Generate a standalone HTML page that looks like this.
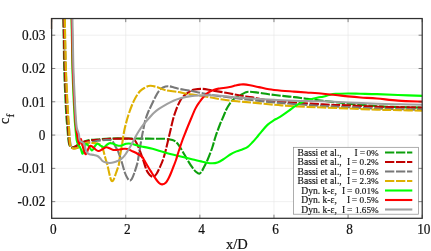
<!DOCTYPE html>
<html><head><meta charset="utf-8"><title>cf</title>
<style>
html,body{margin:0;padding:0;background:#fff;}
body{width:431px;height:251px;overflow:hidden;position:relative;font-family:"Liberation Serif",serif;}
</style></head><body>
<svg width="431" height="251" viewBox="0 0 431 251" style="position:absolute;left:0;top:0;will-change:transform">
<rect x="0" y="0" width="431" height="251" fill="#fff"/>
<g stroke="#e6e6e6" stroke-width="0.6" fill="none"><line x1="125.76" y1="18.55" x2="125.76" y2="218.30"/><line x1="199.87" y1="18.55" x2="199.87" y2="218.30"/><line x1="273.98" y1="18.55" x2="273.98" y2="218.30"/><line x1="348.09" y1="18.55" x2="348.09" y2="218.30"/><line x1="51.65" y1="201.65" x2="422.20" y2="201.65"/><line x1="51.65" y1="168.36" x2="422.20" y2="168.36"/><line x1="51.65" y1="135.07" x2="422.20" y2="135.07"/><line x1="51.65" y1="101.78" x2="422.20" y2="101.78"/><line x1="51.65" y1="68.49" x2="422.20" y2="68.49"/><line x1="51.65" y1="35.20" x2="422.20" y2="35.20"/></g>
<defs><clipPath id="c"><rect x="50.65" y="18.55" width="371.55" height="199.75"/></clipPath></defs>
<g clip-path="url(#c)" fill="none" stroke-width="2.1" stroke-linejoin="round"><path d="M63.10 5.00 C63.13 7.17 63.18 11.67 63.30 18.00 C63.42 24.33 63.65 34.67 63.80 43.00 C63.95 51.33 63.95 59.17 64.20 68.00 C64.45 76.83 64.92 87.67 65.30 96.00 C65.68 104.33 66.15 112.67 66.50 118.00 C66.85 123.33 67.12 124.67 67.40 128.00 C67.68 131.33 67.95 135.50 68.20 138.00 C68.45 140.50 68.62 141.67 68.90 143.00 C69.18 144.33 69.45 145.27 69.90 146.00 C70.35 146.73 70.92 147.23 71.60 147.40 C72.28 147.57 73.25 147.25 74.00 147.00 C74.75 146.75 75.35 146.33 76.10 145.90 C76.85 145.47 77.68 144.90 78.50 144.40 C79.32 143.90 79.92 143.43 81.00 142.90 C82.08 142.37 83.50 141.68 85.00 141.20 C86.50 140.72 87.92 140.28 90.00 140.00 C92.08 139.72 94.17 139.75 97.50 139.50 C100.83 139.25 104.17 138.67 110.00 138.50 C115.83 138.33 127.50 138.48 132.50 138.50 C137.50 138.52 136.25 138.57 140.00 138.60 C143.75 138.63 150.83 138.67 155.00 138.70 C159.17 138.73 162.08 138.58 165.00 138.80 C167.92 139.02 170.42 139.22 172.50 140.00 C174.58 140.78 175.83 141.62 177.50 143.50 C179.17 145.38 180.83 148.50 182.50 151.25 C184.17 154.00 185.83 157.26 187.50 160.00 C189.17 162.74 191.04 165.70 192.50 167.70 C193.96 169.70 195.10 171.00 196.25 172.00 C197.40 173.00 198.44 173.87 199.40 173.70 C200.36 173.53 201.17 172.24 202.00 171.00 C202.83 169.76 203.48 168.08 204.40 166.25 C205.32 164.42 206.18 163.12 207.50 160.00 C208.82 156.88 210.98 151.33 212.30 147.50 C213.62 143.67 214.16 140.75 215.40 137.00 C216.64 133.25 218.40 128.46 219.75 125.00 C221.10 121.54 222.34 118.95 223.50 116.25 C224.66 113.55 225.62 110.96 226.70 108.80 C227.78 106.64 228.82 104.93 230.00 103.30 C231.18 101.67 232.08 100.32 233.75 99.00 C235.42 97.68 238.12 96.47 240.00 95.40 C241.88 94.33 243.54 93.22 245.00 92.60 C246.46 91.98 246.88 91.73 248.75 91.70 C250.62 91.67 252.92 91.97 256.25 92.40 C259.58 92.83 264.54 93.73 268.75 94.30 C272.96 94.87 277.29 95.33 281.50 95.80 C285.71 96.27 289.83 96.61 294.00 97.10 C298.17 97.59 301.67 98.13 306.50 98.75 C311.33 99.37 316.08 99.99 323.00 100.80 C329.92 101.61 339.00 102.70 348.00 103.60 C357.00 104.50 368.33 105.62 377.00 106.20 C385.67 106.78 392.33 106.85 400.00 107.10 C407.67 107.35 419.17 107.60 423.00 107.70" stroke="#0c9f0c" stroke-dasharray="9.15 1.65" stroke-dashoffset="-2.7"/><path d="M63.40 5.00 C63.43 7.17 63.47 11.67 63.60 18.00 C63.73 24.33 64.00 34.67 64.20 43.00 C64.40 51.33 64.50 59.17 64.80 68.00 C65.10 76.83 65.58 87.67 66.00 96.00 C66.42 104.33 66.95 112.67 67.30 118.00 C67.65 123.33 67.85 124.67 68.10 128.00 C68.35 131.33 68.58 135.50 68.80 138.00 C69.02 140.50 69.17 141.67 69.40 143.00 C69.63 144.33 69.80 145.25 70.20 146.00 C70.60 146.75 71.17 147.30 71.80 147.50 C72.43 147.70 73.28 147.42 74.00 147.20 C74.72 146.98 75.35 146.60 76.10 146.20 C76.85 145.80 77.68 145.28 78.50 144.80 C79.32 144.32 79.92 143.83 81.00 143.30 C82.08 142.77 83.50 142.08 85.00 141.60 C86.50 141.12 87.92 140.68 90.00 140.40 C92.08 140.12 94.17 140.17 97.50 139.90 C100.83 139.63 105.42 139.02 110.00 138.80 C114.58 138.58 121.25 138.57 125.00 138.60 C128.75 138.63 130.62 138.35 132.50 139.00 C134.38 139.65 135.00 140.46 136.25 142.50 C137.50 144.54 138.82 148.25 140.00 151.25 C141.18 154.25 142.22 157.38 143.30 160.50 C144.38 163.62 145.43 167.58 146.50 170.00 C147.57 172.42 148.60 173.85 149.75 175.00 C150.90 176.15 152.26 177.11 153.40 176.90 C154.54 176.69 155.54 175.32 156.60 173.75 C157.66 172.18 158.70 169.79 159.75 167.50 C160.80 165.21 161.89 162.92 162.90 160.00 C163.91 157.08 164.68 154.33 165.80 150.00 C166.92 145.67 168.33 139.33 169.60 134.00 C170.87 128.67 172.23 122.23 173.40 118.00 C174.57 113.77 175.58 111.27 176.60 108.60 C177.62 105.93 178.52 103.90 179.50 102.00 C180.48 100.10 181.38 98.53 182.50 97.20 C183.62 95.87 184.97 94.97 186.20 94.00 C187.43 93.03 188.52 92.15 189.90 91.40 C191.28 90.65 192.40 89.92 194.50 89.50 C196.60 89.08 199.50 88.73 202.50 88.90 C205.50 89.07 208.33 89.82 212.50 90.50 C216.67 91.18 222.92 92.17 227.50 93.00 C232.08 93.83 235.83 94.77 240.00 95.50 C244.17 96.23 247.67 96.58 252.50 97.40 C257.33 98.22 262.08 99.55 269.00 100.40 C275.92 101.25 285.00 101.83 294.00 102.50 C303.00 103.17 314.00 103.92 323.00 104.40 C332.00 104.88 339.00 105.02 348.00 105.40 C357.00 105.78 368.33 106.40 377.00 106.70 C385.67 107.00 392.33 107.05 400.00 107.20 C407.67 107.35 419.17 107.53 423.00 107.60" stroke="#c00000" stroke-dasharray="9.15 1.65" stroke-dashoffset="-2.7"/><path d="M64.30 5.00 C64.33 7.17 64.37 11.67 64.50 18.00 C64.63 24.33 64.90 34.67 65.10 43.00 C65.30 51.33 65.40 59.17 65.70 68.00 C66.00 76.83 66.48 87.67 66.90 96.00 C67.32 104.33 67.85 112.67 68.20 118.00 C68.55 123.33 68.75 124.67 69.00 128.00 C69.25 131.33 69.48 135.50 69.70 138.00 C69.92 140.50 70.05 141.50 70.30 143.00 C70.55 144.50 70.73 146.12 71.20 147.00 C71.67 147.88 72.38 148.10 73.10 148.30 C73.82 148.50 74.77 148.30 75.50 148.20 C76.23 148.10 76.58 148.10 77.50 147.70 C78.42 147.30 79.75 146.50 81.00 145.80 C82.25 145.10 83.83 144.03 85.00 143.50 C86.17 142.97 86.83 142.82 88.00 142.60 C89.17 142.38 90.83 142.40 92.00 142.20 C93.17 142.00 94.08 141.63 95.00 141.40 C95.92 141.17 95.67 141.05 97.50 140.80 C99.33 140.55 103.92 140.03 106.00 139.90 C108.08 139.77 108.92 139.78 110.00 140.00 C111.08 140.22 111.50 139.95 112.50 141.20 C113.50 142.45 114.96 145.53 116.00 147.50 C117.04 149.47 117.77 150.50 118.75 153.00 C119.73 155.50 120.86 159.17 121.90 162.50 C122.94 165.83 124.07 170.37 125.00 173.00 C125.93 175.63 126.72 177.03 127.50 178.30 C128.28 179.57 128.98 180.48 129.70 180.60 C130.42 180.72 131.03 180.27 131.80 179.00 C132.57 177.73 133.33 175.75 134.30 173.00 C135.27 170.25 136.93 165.00 137.60 162.50 C138.27 160.00 137.93 160.25 138.30 158.00 C138.67 155.75 139.30 152.00 139.80 149.00 C140.30 146.00 140.73 143.17 141.30 140.00 C141.87 136.83 142.55 133.25 143.20 130.00 C143.85 126.75 144.40 123.42 145.20 120.50 C146.00 117.58 147.05 114.87 148.00 112.50 C148.95 110.13 149.65 108.92 150.90 106.30 C152.15 103.67 154.12 99.37 155.50 96.75 C156.88 94.13 157.95 92.14 159.20 90.60 C160.45 89.06 161.53 88.23 163.00 87.50 C164.47 86.77 166.17 86.22 168.00 86.20 C169.83 86.18 172.04 86.93 174.00 87.40 C175.96 87.87 177.12 88.47 179.75 89.00 C182.38 89.53 185.96 89.89 189.75 90.60 C193.54 91.31 198.29 92.43 202.50 93.25 C206.71 94.07 208.75 94.61 215.00 95.50 C221.25 96.39 231.04 97.53 240.00 98.60 C248.96 99.67 259.75 101.00 268.75 101.90 C277.75 102.80 284.96 103.32 294.00 104.00 C303.04 104.68 314.00 105.47 323.00 106.00 C332.00 106.53 339.00 106.77 348.00 107.20 C357.00 107.63 368.33 108.27 377.00 108.60 C385.67 108.93 392.33 109.00 400.00 109.20 C407.67 109.40 419.17 109.70 423.00 109.80" stroke="#787878" stroke-dasharray="9.15 1.65" stroke-dashoffset="-2.7"/><path d="M64.60 5.00 C64.63 7.17 64.68 11.67 64.80 18.00 C64.92 24.33 65.12 34.67 65.30 43.00 C65.48 51.33 65.60 59.17 65.90 68.00 C66.20 76.83 66.70 87.67 67.10 96.00 C67.50 104.33 67.98 112.67 68.30 118.00 C68.62 123.33 68.80 124.67 69.00 128.00 C69.20 131.33 69.33 135.42 69.50 138.00 C69.67 140.58 69.77 142.00 70.00 143.50 C70.23 145.00 70.38 146.17 70.90 147.00 C71.42 147.83 72.33 148.27 73.10 148.50 C73.87 148.73 74.77 148.50 75.50 148.40 C76.23 148.30 76.58 148.32 77.50 147.90 C78.42 147.48 79.75 146.62 81.00 145.90 C82.25 145.18 83.83 144.15 85.00 143.60 C86.17 143.05 86.75 142.70 88.00 142.60 C89.25 142.50 90.92 142.83 92.50 143.00 C94.08 143.17 96.12 143.23 97.50 143.60 C98.88 143.97 99.88 144.26 100.80 145.20 C101.72 146.14 102.30 147.32 103.00 149.25 C103.70 151.18 104.52 154.96 105.00 156.75 C105.48 158.54 105.50 158.62 105.90 160.00 C106.30 161.38 106.83 162.75 107.40 165.00 C107.97 167.25 108.73 171.12 109.30 173.50 C109.87 175.88 110.32 178.00 110.80 179.30 C111.28 180.60 111.72 181.27 112.20 181.30 C112.68 181.33 113.07 180.88 113.70 179.50 C114.33 178.12 115.16 175.42 116.00 173.00 C116.84 170.58 118.12 167.58 118.75 165.00 C119.38 162.42 119.21 160.83 119.75 157.50 C120.29 154.17 121.24 149.50 122.00 145.00 C122.76 140.50 123.23 135.50 124.30 130.50 C125.37 125.50 126.78 119.98 128.40 115.00 C130.02 110.02 132.08 104.55 134.00 100.60 C135.92 96.65 138.07 93.47 139.90 91.30 C141.73 89.13 143.27 88.52 145.00 87.60 C146.73 86.68 148.22 85.87 150.30 85.80 C152.38 85.73 155.05 86.50 157.50 87.20 C159.95 87.90 161.67 89.20 165.00 90.00 C168.33 90.80 173.33 91.29 177.50 92.00 C181.67 92.71 185.83 93.60 190.00 94.25 C194.17 94.90 198.33 95.23 202.50 95.90 C206.67 96.58 210.83 97.58 215.00 98.30 C219.17 99.02 223.33 99.72 227.50 100.25 C231.67 100.78 235.83 101.11 240.00 101.50 C244.17 101.89 247.71 102.15 252.50 102.60 C257.29 103.05 263.92 103.73 268.75 104.20 C273.58 104.67 277.29 105.06 281.50 105.40 C285.71 105.74 289.83 106.00 294.00 106.25 C298.17 106.50 301.67 106.69 306.50 106.90 C311.33 107.11 316.08 107.23 323.00 107.50 C329.92 107.77 339.00 108.13 348.00 108.50 C357.00 108.87 368.33 109.42 377.00 109.70 C385.67 109.98 392.33 110.03 400.00 110.20 C407.67 110.37 419.17 110.62 423.00 110.70" stroke="#deb000" stroke-dasharray="9.15 1.65" stroke-dashoffset="-2.7"/><path d="M71.40 5.00 C71.42 7.17 71.40 11.67 71.50 18.00 C71.60 24.33 71.85 34.67 72.00 43.00 C72.15 51.33 72.15 59.17 72.40 68.00 C72.65 76.83 73.13 87.67 73.50 96.00 C73.87 104.33 74.28 112.67 74.60 118.00 C74.92 123.33 75.17 125.33 75.40 128.00 C75.63 130.67 75.78 131.93 76.00 134.00 C76.22 136.07 76.37 138.70 76.70 140.40 C77.03 142.10 77.50 143.13 78.00 144.20 C78.50 145.27 79.17 145.83 79.70 146.80 C80.23 147.77 80.80 148.97 81.20 150.00 C81.60 151.03 81.83 152.38 82.10 153.00 C82.37 153.62 82.53 154.03 82.80 153.70 C83.07 153.37 83.33 152.20 83.70 151.00 C84.07 149.80 84.58 147.67 85.00 146.50 C85.42 145.33 85.75 144.22 86.25 144.00 C86.75 143.78 87.38 144.53 88.00 145.20 C88.62 145.87 89.35 147.12 90.00 148.00 C90.65 148.88 91.32 150.37 91.90 150.50 C92.48 150.63 92.98 149.55 93.50 148.80 C94.02 148.05 94.33 146.83 95.00 146.00 C95.67 145.17 96.67 143.92 97.50 143.80 C98.33 143.68 98.96 144.73 100.00 145.30 C101.04 145.87 102.71 147.20 103.75 147.20 C104.79 147.20 105.31 145.97 106.25 145.30 C107.19 144.63 108.36 143.50 109.40 143.20 C110.44 142.90 111.15 143.10 112.50 143.50 C113.85 143.90 116.04 145.25 117.50 145.60 C118.96 145.95 119.79 145.91 121.25 145.60 C122.71 145.29 124.58 144.06 126.25 143.75 C127.92 143.44 129.38 143.44 131.25 143.75 C133.12 144.06 135.42 145.07 137.50 145.60 C139.58 146.12 141.25 146.38 143.75 146.90 C146.25 147.43 148.96 147.82 152.50 148.75 C156.04 149.68 160.83 151.33 165.00 152.50 C169.17 153.67 173.33 154.71 177.50 155.75 C181.67 156.79 185.83 157.75 190.00 158.75 C194.17 159.75 198.96 161.00 202.50 161.75 C206.04 162.50 208.75 163.12 211.25 163.25 C213.75 163.38 215.38 163.22 217.50 162.50 C219.62 161.78 221.88 160.23 224.00 158.90 C226.12 157.57 228.17 155.75 230.25 154.50 C232.33 153.25 234.42 152.28 236.50 151.40 C238.58 150.53 240.88 150.00 242.75 149.25 C244.62 148.50 246.08 148.11 247.75 146.90 C249.42 145.69 251.08 143.78 252.75 142.00 C254.42 140.22 256.29 137.93 257.75 136.20 C259.21 134.47 259.83 133.53 261.50 131.60 C263.17 129.67 265.67 126.50 267.75 124.60 C269.83 122.70 272.33 121.27 274.00 120.20 C275.67 119.13 276.25 119.10 277.75 118.20 C279.25 117.30 281.12 116.07 283.00 114.80 C284.88 113.53 287.17 111.92 289.00 110.60 C290.83 109.28 292.12 108.15 294.00 106.90 C295.88 105.65 298.17 104.15 300.25 103.10 C302.33 102.05 304.42 101.32 306.50 100.60 C308.58 99.88 310.67 99.31 312.75 98.75 C314.83 98.19 317.29 97.59 319.00 97.25 C320.71 96.91 321.29 97.08 323.00 96.70 C324.71 96.33 327.17 95.47 329.25 95.00 C331.33 94.53 332.38 94.15 335.50 93.90 C338.62 93.65 343.83 93.53 348.00 93.50 C352.17 93.47 355.67 93.65 360.50 93.75 C365.33 93.85 370.75 93.89 377.00 94.10 C383.25 94.31 390.33 94.70 398.00 95.00 C405.67 95.30 418.83 95.75 423.00 95.90" stroke="#00ff00"/><path d="M71.60 5.00 C71.63 7.17 71.68 11.67 71.80 18.00 C71.92 24.33 72.13 34.67 72.30 43.00 C72.47 51.33 72.52 59.17 72.80 68.00 C73.08 76.83 73.60 87.67 74.00 96.00 C74.40 104.33 74.85 112.67 75.20 118.00 C75.55 123.33 75.80 125.33 76.10 128.00 C76.40 130.67 76.65 131.83 77.00 134.00 C77.35 136.17 77.82 139.28 78.20 141.00 C78.58 142.72 78.97 144.22 79.30 144.30 C79.63 144.38 79.93 142.40 80.20 141.50 C80.47 140.60 80.65 138.90 80.90 138.90 C81.15 138.90 81.43 140.48 81.70 141.50 C81.97 142.52 82.17 143.58 82.50 145.00 C82.83 146.42 83.28 148.62 83.70 150.00 C84.12 151.38 84.65 152.59 85.00 153.30 C85.35 154.01 85.48 154.38 85.80 154.25 C86.12 154.12 86.52 153.33 86.90 152.50 C87.28 151.67 87.58 150.33 88.10 149.25 C88.62 148.17 89.27 146.42 90.00 146.00 C90.73 145.58 91.46 146.08 92.50 146.75 C93.54 147.42 95.21 149.29 96.25 150.00 C97.29 150.71 97.71 151.12 98.75 151.00 C99.79 150.88 101.25 149.87 102.50 149.25 C103.75 148.63 105.00 147.43 106.25 147.30 C107.50 147.18 108.75 148.05 110.00 148.50 C111.25 148.95 112.29 149.79 113.75 150.00 C115.21 150.21 117.08 149.96 118.75 149.75 C120.42 149.54 122.29 148.88 123.75 148.75 C125.21 148.62 126.04 148.58 127.50 149.00 C128.96 149.42 130.83 150.46 132.50 151.25 C134.17 152.04 135.83 152.74 137.50 153.75 C139.17 154.76 141.40 156.26 142.50 157.30 C143.60 158.34 143.10 158.30 144.10 160.00 C145.10 161.70 147.25 165.42 148.50 167.50 C149.75 169.58 150.56 170.83 151.60 172.50 C152.64 174.17 153.50 175.73 154.75 177.50 C156.00 179.27 157.85 181.95 159.10 183.10 C160.35 184.25 161.10 184.50 162.25 184.40 C163.40 184.30 164.92 183.57 166.00 182.50 C167.08 181.43 167.88 179.67 168.75 178.00 C169.62 176.33 170.38 174.50 171.20 172.50 C172.02 170.50 172.90 168.08 173.70 166.00 C174.50 163.92 175.23 162.25 176.00 160.00 C176.77 157.75 177.22 155.83 178.30 152.50 C179.38 149.17 181.22 143.58 182.50 140.00 C183.78 136.42 184.67 134.33 186.00 131.00 C187.33 127.67 188.93 123.73 190.50 120.00 C192.07 116.27 193.86 111.64 195.40 108.60 C196.94 105.56 198.19 103.93 199.75 101.75 C201.31 99.57 203.29 97.06 204.75 95.50 C206.21 93.94 207.04 93.33 208.50 92.40 C209.96 91.47 211.83 90.53 213.50 89.90 C215.17 89.27 216.83 88.92 218.50 88.60 C220.17 88.28 221.62 88.27 223.50 88.00 C225.38 87.73 228.04 87.33 229.75 87.00 C231.46 86.67 232.62 86.30 233.75 86.00 C234.88 85.70 235.46 85.43 236.50 85.20 C237.54 84.97 238.79 84.73 240.00 84.60 C241.21 84.47 242.08 84.28 243.75 84.40 C245.42 84.52 247.50 84.85 250.00 85.30 C252.50 85.75 255.58 86.43 258.75 87.10 C261.92 87.77 265.21 88.70 269.00 89.30 C272.79 89.90 277.33 90.32 281.50 90.70 C285.67 91.08 289.83 91.30 294.00 91.60 C298.17 91.90 301.67 92.14 306.50 92.50 C311.33 92.86 318.17 93.33 323.00 93.75 C327.83 94.17 331.33 94.56 335.50 95.00 C339.67 95.44 343.83 95.98 348.00 96.40 C352.17 96.82 355.67 97.15 360.50 97.50 C365.33 97.85 370.75 97.98 377.00 98.50 C383.25 99.02 390.33 100.08 398.00 100.60 C405.67 101.12 418.83 101.43 423.00 101.60" stroke="#ff0000"/><path d="M72.20 5.00 C72.23 7.17 72.28 11.67 72.40 18.00 C72.52 24.33 72.73 34.67 72.90 43.00 C73.07 51.33 73.12 59.17 73.40 68.00 C73.68 76.83 74.20 87.67 74.60 96.00 C75.00 104.33 75.43 112.67 75.80 118.00 C76.17 123.33 76.30 125.33 76.80 128.00 C77.30 130.67 78.35 132.08 78.80 134.00 C79.25 135.92 79.22 138.28 79.50 139.50 C79.78 140.72 79.90 140.78 80.50 141.30 C81.10 141.82 82.47 142.07 83.10 142.60 C83.73 143.13 83.98 143.82 84.30 144.50 C84.62 145.18 84.75 145.78 85.00 146.70 C85.25 147.62 85.43 148.98 85.80 150.00 C86.17 151.02 86.60 152.09 87.20 152.80 C87.80 153.51 88.31 153.90 89.40 154.25 C90.49 154.60 92.40 154.61 93.75 154.90 C95.10 155.19 96.46 155.48 97.50 156.00 C98.54 156.52 99.17 157.17 100.00 158.00 C100.83 158.83 101.50 160.23 102.50 161.00 C103.50 161.77 104.75 162.27 106.00 162.60 C107.25 162.93 108.67 163.05 110.00 163.00 C111.33 162.95 112.75 162.63 114.00 162.30 C115.25 161.97 116.29 161.55 117.50 161.00 C118.71 160.45 120.00 160.00 121.25 159.00 C122.50 158.00 123.33 157.33 125.00 155.00 C126.67 152.67 129.58 147.87 131.25 145.00 C132.92 142.13 133.75 140.10 135.00 137.80 C136.25 135.50 137.29 133.47 138.75 131.20 C140.21 128.93 141.88 126.57 143.75 124.20 C145.62 121.83 148.33 118.87 150.00 117.00 C151.67 115.13 152.33 114.30 153.75 113.00 C155.17 111.70 156.25 110.72 158.50 109.20 C160.75 107.68 164.75 105.32 167.25 103.90 C169.75 102.48 171.42 101.60 173.50 100.70 C175.58 99.80 177.67 99.13 179.75 98.50 C181.83 97.87 183.92 97.33 186.00 96.90 C188.08 96.47 190.17 96.13 192.25 95.90 C194.33 95.67 196.42 95.59 198.50 95.50 C200.58 95.41 202.67 95.38 204.75 95.35 C206.83 95.32 208.92 95.27 211.00 95.30 C213.08 95.33 215.17 95.38 217.25 95.50 C219.33 95.62 221.42 95.80 223.50 96.00 C225.58 96.20 227.00 96.43 229.75 96.70 C232.50 96.97 236.21 97.30 240.00 97.60 C243.79 97.90 247.71 98.17 252.50 98.50 C257.29 98.83 261.83 99.23 268.75 99.60 C275.67 99.97 284.96 100.42 294.00 100.70 C303.04 100.98 314.00 101.00 323.00 101.30 C332.00 101.60 339.00 102.09 348.00 102.50 C357.00 102.91 368.33 103.45 377.00 103.75 C385.67 104.05 392.33 104.14 400.00 104.30 C407.67 104.46 419.17 104.63 423.00 104.70" stroke="#a0a0a0"/></g>
<path d="M51.50 29V18" fill="none" stroke="#b08060" stroke-width="1.9" stroke-opacity="0.55"/>
<rect x="293.50" y="147.30" width="125.00" height="66.90" fill="#fff" stroke="#8a8a8a" stroke-width="0.7"/><g font-family="'Liberation Serif', serif" font-size="9.6" fill="#111" stroke="#111" stroke-width="0.15"><text x="297.50" y="155.60" text-anchor="start">Bassi</text><text x="320.40" y="155.60" text-anchor="start">et</text><text x="330.00" y="155.60" text-anchor="start">al.,</text><text x="354.50" y="155.60" text-anchor="start">I</text><text x="359.70" y="155.60" text-anchor="start">=</text><text x="378.70" y="155.60" text-anchor="end" font-size="9.2">0%</text><text x="297.50" y="165.10" text-anchor="start">Bassi</text><text x="320.40" y="165.10" text-anchor="start">et</text><text x="330.00" y="165.10" text-anchor="start">al.,</text><text x="347.00" y="165.10" text-anchor="start">I</text><text x="351.80" y="165.10" text-anchor="start">=</text><text x="378.70" y="165.10" text-anchor="end" font-size="9.2">0.2%</text><text x="297.50" y="174.60" text-anchor="start">Bassi</text><text x="320.40" y="174.60" text-anchor="start">et</text><text x="330.00" y="174.60" text-anchor="start">al.,</text><text x="347.00" y="174.60" text-anchor="start">I</text><text x="351.80" y="174.60" text-anchor="start">=</text><text x="378.70" y="174.60" text-anchor="end" font-size="9.2">0.6%</text><text x="297.50" y="184.10" text-anchor="start">Bassi</text><text x="320.40" y="184.10" text-anchor="start">et</text><text x="330.00" y="184.10" text-anchor="start">al.,</text><text x="347.00" y="184.10" text-anchor="start">I</text><text x="351.80" y="184.10" text-anchor="start">=</text><text x="378.70" y="184.10" text-anchor="end" font-size="9.2">2.3%</text><text x="301.30" y="193.60" text-anchor="start">Dyn.</text><text x="322.50" y="193.60" text-anchor="start">k-ε,</text><text x="342.00" y="193.60" text-anchor="start">I</text><text x="347.00" y="193.60" text-anchor="start">=</text><text x="378.70" y="193.60" text-anchor="end" font-size="9.2">0.01%</text><text x="301.30" y="203.10" text-anchor="start">Dyn.</text><text x="322.50" y="203.10" text-anchor="start">k-ε,</text><text x="347.00" y="203.10" text-anchor="start">I</text><text x="351.80" y="203.10" text-anchor="start">=</text><text x="378.70" y="203.10" text-anchor="end" font-size="9.2">0.5%</text><text x="301.30" y="212.60" text-anchor="start">Dyn.</text><text x="322.50" y="212.60" text-anchor="start">k-ε,</text><text x="342.00" y="212.60" text-anchor="start">I</text><text x="347.00" y="212.60" text-anchor="start">=</text><text x="378.70" y="212.60" text-anchor="end" font-size="9.2">1.65%</text></g><g fill="none" stroke-width="2.1"><line x1="385" y1="152.50" x2="412.3" y2="152.50" stroke="#0c9f0c" stroke-dasharray="9.3 1.7"/><line x1="385" y1="162.00" x2="412.3" y2="162.00" stroke="#c00000" stroke-dasharray="9.3 1.7"/><line x1="385" y1="171.50" x2="412.3" y2="171.50" stroke="#787878" stroke-dasharray="9.3 1.7"/><line x1="385" y1="181.00" x2="412.3" y2="181.00" stroke="#deb000" stroke-dasharray="9.3 1.7"/><line x1="385" y1="190.50" x2="412.3" y2="190.50" stroke="#00ff00"/><line x1="385" y1="200.00" x2="412.3" y2="200.00" stroke="#ff0000"/><line x1="385" y1="209.50" x2="412.3" y2="209.50" stroke="#a0a0a0"/></g>
<g stroke="#333" stroke-width="0.6" fill="none"><line x1="51.65" y1="218.30" x2="51.65" y2="214.70"/><line x1="51.65" y1="18.55" x2="51.65" y2="22.15"/><line x1="125.76" y1="218.30" x2="125.76" y2="214.70"/><line x1="125.76" y1="18.55" x2="125.76" y2="22.15"/><line x1="199.87" y1="218.30" x2="199.87" y2="214.70"/><line x1="199.87" y1="18.55" x2="199.87" y2="22.15"/><line x1="273.98" y1="218.30" x2="273.98" y2="214.70"/><line x1="273.98" y1="18.55" x2="273.98" y2="22.15"/><line x1="348.09" y1="218.30" x2="348.09" y2="214.70"/><line x1="348.09" y1="18.55" x2="348.09" y2="22.15"/><line x1="422.20" y1="218.30" x2="422.20" y2="214.70"/><line x1="422.20" y1="18.55" x2="422.20" y2="22.15"/><line x1="51.65" y1="201.65" x2="55.25" y2="201.65"/><line x1="422.20" y1="201.65" x2="418.60" y2="201.65"/><line x1="51.65" y1="168.36" x2="55.25" y2="168.36"/><line x1="422.20" y1="168.36" x2="418.60" y2="168.36"/><line x1="51.65" y1="135.07" x2="55.25" y2="135.07"/><line x1="422.20" y1="135.07" x2="418.60" y2="135.07"/><line x1="51.65" y1="101.78" x2="55.25" y2="101.78"/><line x1="422.20" y1="101.78" x2="418.60" y2="101.78"/><line x1="51.65" y1="68.49" x2="55.25" y2="68.49"/><line x1="422.20" y1="68.49" x2="418.60" y2="68.49"/><line x1="51.65" y1="35.20" x2="55.25" y2="35.20"/><line x1="422.20" y1="35.20" x2="418.60" y2="35.20"/></g>
<rect x="51.65" y="18.55" width="370.55" height="199.75" fill="none" stroke="#303030" stroke-width="1.25"/>
<g font-family="'Liberation Serif', serif" font-size="14" fill="#111" stroke="#111" stroke-width="0.2"><text transform="translate(53.25,234.20) scale(0.95,1)" text-anchor="middle">0</text><text transform="translate(127.36,234.20) scale(0.95,1)" text-anchor="middle">2</text><text transform="translate(201.47,234.20) scale(0.95,1)" text-anchor="middle">4</text><text transform="translate(275.58,234.20) scale(0.95,1)" text-anchor="middle">6</text><text transform="translate(349.69,234.20) scale(0.95,1)" text-anchor="middle">8</text><text transform="translate(423.80,234.20) scale(0.95,1)" text-anchor="middle">10</text><text transform="translate(45.30,206.40) scale(0.95,1)" text-anchor="end">-0.02</text><text transform="translate(45.30,173.11) scale(0.95,1)" text-anchor="end">-0.01</text><text transform="translate(45.30,139.82) scale(0.95,1)" text-anchor="end">0</text><text transform="translate(45.30,106.53) scale(0.95,1)" text-anchor="end">0.01</text><text transform="translate(45.30,73.24) scale(0.95,1)" text-anchor="end">0.02</text><text transform="translate(45.30,39.95) scale(0.95,1)" text-anchor="end">0.03</text></g>
<g font-family="'Liberation Serif', serif" fill="#111" stroke="#111" stroke-width="0.2"><text x="236.9" y="248.8" font-size="14.5" text-anchor="middle">x/D</text><text transform="translate(9.4,123.9) rotate(-90)" font-size="14">c</text><text transform="translate(14,117.5) rotate(-90)" font-size="11.2">f</text></g>
</svg>
</body></html>
